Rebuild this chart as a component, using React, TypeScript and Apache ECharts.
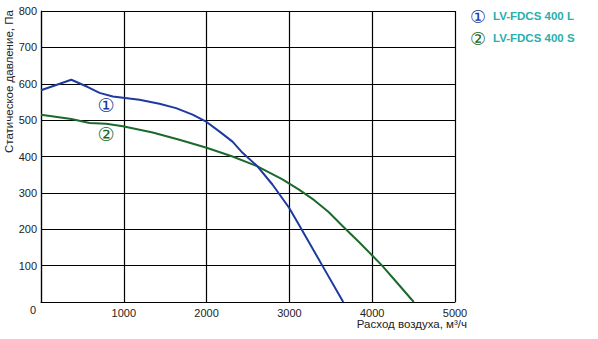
import React, { useEffect, useRef } from "react";
import * as echarts from "echarts";

// Fan curves: airflow (m³/h) vs static pressure (Pa)
const seriesNames = ["LV-FDCS 400 L", "LV-FDCS 400 S"];
const markers = ["①", "②"];
const colors = ["#1c3aa0", "#1a6a2c"];

const flowL = [0, 366, 566, 707, 867, 1189, 1430, 1631, 1831, 2000, 2153, 2313, 2434, 2614, 2795, 2996, 3117, 3398, 3650];
const pressL = [582, 611, 591, 575, 565, 556, 545, 533, 515, 495, 469, 441, 410, 373, 323, 259, 212, 100, 0];

const flowS = [0, 366, 587, 788, 988, 1349, 1671, 2000, 2313, 2614, 2916, 3116, 3300, 3470, 3660, 3840, 4000, 4120, 4300, 4502];
const pressS = [515, 503, 492, 490, 483, 466, 446, 424, 400, 373, 337, 309, 280, 248, 205, 165, 128, 100, 53, 0];

const xTicks = { min: 0, max: 5000, interval: 1000 };
const yTicks = { min: 0, max: 800, interval: 100 };

const xTitle = "Расход воздуха, м³/ч";
const yTitle = "Статическое давление, Па";

export default function App() {
  const ref = useRef<HTMLDivElement>(null);

  useEffect(() => {
    if (!ref.current) return;
    const chart = echarts.init(ref.current, undefined, { renderer: "svg" });
    const font = "Liberation Sans, Arial, sans-serif";
    const pairs = (xs: number[], ys: number[]) => xs.map((x, i) => [x, ys[i]]);

    chart.setOption({
      animation: false,
      backgroundColor: "#ffffff",
      grid: { left: 41, right: 143, top: 11, bottom: 37 },
      xAxis: {
        type: "value",
        ...xTicks,
        axisLine: { lineStyle: { color: "#000", width: 1.2 } },
        axisTick: { show: false },
        splitLine: { lineStyle: { color: "#000", width: 1.2 } },
        axisLabel: {
          color: "#222",
          fontSize: 11,
          fontFamily: font,
          margin: 5,
          formatter: (v: number) => (v === 0 ? "" : String(v)),
        },
      },
      yAxis: {
        type: "value",
        ...yTicks,
        axisLine: { show: true, lineStyle: { color: "#000", width: 1.2 } },
        axisTick: { show: false },
        splitLine: { lineStyle: { color: "#000", width: 1.2 } },
        axisLabel: {
          color: "#222",
          fontSize: 11,
          fontFamily: font,
          margin: 4,
          formatter: (v: number) => (v === 0 ? "" : String(v)),
        },
      },
      series: [
        {
          name: seriesNames[0],
          type: "line",
          symbol: "none",
          data: pairs(flowL, pressL),
          lineStyle: { color: colors[0], width: 2, join: "round" },
          z: 3,
        },
        {
          name: seriesNames[1],
          type: "line",
          symbol: "none",
          data: pairs(flowS, pressS),
          lineStyle: { color: colors[1], width: 2, join: "round" },
          z: 2,
        },
      ],
      graphic: [
        {
          type: "text",
          left: 30,
          top: 304,
          style: { text: "0", fontSize: 11, fontFamily: font, fill: "#222" },
        },
        {
          type: "text",
          x: 467,
          y: 318,
          style: { text: xTitle, fontSize: 11.5, fontFamily: font, fill: "#222", align: "right" },
        },
        {
          type: "text",
          x: 3,
          y: 153,
          rotation: Math.PI / 2,
          style: { text: yTitle, fontSize: 11.5, fontFamily: font, fill: "#222", align: "left" },
        },
        // curve markers inside the plot
        {
          type: "text",
          x: 106,
          y: 105,
          style: { text: markers[0], fontSize: 19, fontFamily: "DejaVu Sans", fill: colors[0], align: "center", verticalAlign: "middle" },
        },
        {
          type: "text",
          x: 106,
          y: 134,
          style: { text: markers[1], fontSize: 19, fontFamily: "DejaVu Sans", fill: colors[1], align: "center", verticalAlign: "middle" },
        },
        // legend
        ...seriesNames.flatMap((name, i) => [
          {
            type: "text",
            x: 478,
            y: 16 + i * 22,
            style: { text: markers[i], fontSize: 18, fontFamily: "DejaVu Sans", fill: colors[i], align: "center", verticalAlign: "middle" },
          },
          {
            type: "text",
            x: 493,
            y: 16 + i * 22,
            style: { text: name, fontSize: 11.5, fontWeight: "bold", fontFamily: font, fill: "#2aaeae", align: "left", verticalAlign: "middle" },
          },
        ]),
      ],
    });

    return () => chart.dispose();
  }, []);

  return <div ref={ref} style={{ width: 598, height: 339, position: "absolute", left: 0, top: 0 }} />;
}
